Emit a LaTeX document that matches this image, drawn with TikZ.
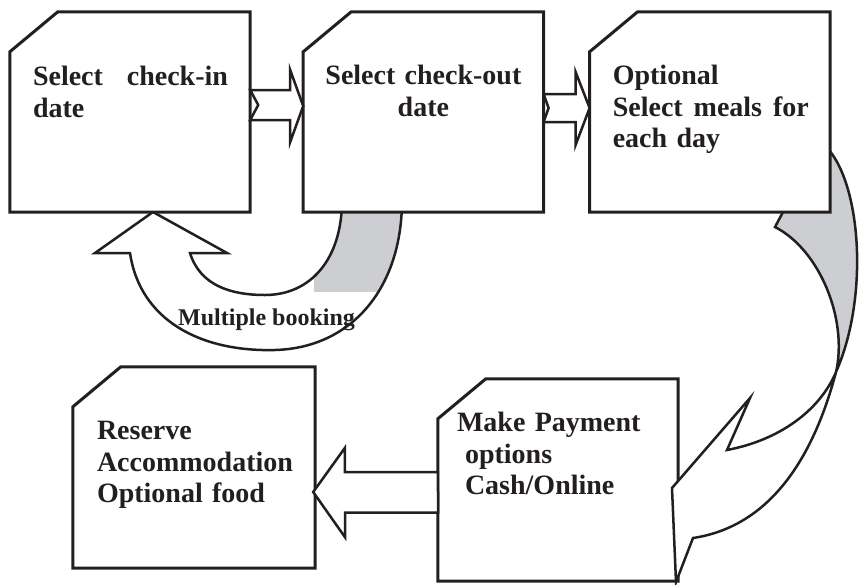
\documentclass[tikz,border=0pt]{standalone}
\usepackage{fontspec}
\setmainfont{Liberation Serif}
\usetikzlibrary{positioning,calc}
\definecolor{bandgray}{RGB}{205,206,209}
\definecolor{ink}{RGB}{35,31,32}

\begin{document}
\begin{tikzpicture}[x=1pt, y=-1pt, every node/.style={inner sep=0pt}]
    % styles
    \tikzstyle{card} = [rectangle, minimum width=240pt, minimum height=200pt]
    \tikzstyle{cardline} = [draw=ink, line width=3pt, fill=white]
    \tikzstyle{bandline} = [draw=ink, line width=2.5pt, fill=white]
    \tikzstyle{blockarrow} = [draw=ink, line width=2.5pt, fill=white]
    \tikzstyle{txt} = [text=ink, font=\fontsize{28}{31.5}\selectfont\bfseries, align=left]

    \useasboundingbox (0,0) rectangle (861,584);

    % boxes (outlines drawn below)
    \node[card] (b1) at (130,112) {};
    \node[card, right=53pt of b1] (b2) {};
    \node[card, right=46pt of b2] (b3) {};
    \node[card, minimum width=242pt, minimum height=201pt] (b5) at (194,467.5) {};
    \node[card, minimum height=202pt] (b4) at (558,480) {};

    \draw[cardline] ([yshift=-40pt]b4.north west) -- ([xshift=48pt]b4.north west) -- (b4.north east) -- (b4.south east) -- (b4.south west) -- cycle;

    % loop back: check-out -> check-in
    \draw[bandline, path picture={\fill[bandgray] (314,190) rectangle (420,292);}]
        (153,212) -- (95,253) -- (130,253) .. controls (140,320) and (200,352) .. (275,350)
        .. controls (350,348) and (402,290) .. (402,200) -- (342,200)
        .. controls (342,260) and (310,295) .. (265,295) .. controls (230,295) and (200,285) .. (190,253)
        -- (227,253) -- cycle;

    % meals -> payment
    \draw[bandline, path picture={\fill[bandgray] (700,130) rectangle (870,372);}]
        (800,180) -- (829,150) .. controls (862,190) and (868,300) .. (836,372)
        .. controls (818,440) and (780,525) .. (693,538) -- (676,582) -- (672,488) -- (750,398) -- (727,450)
        .. controls (780,440) and (820,410) .. (836,372) .. controls (848,320) and (820,250) .. (775,227)
        -- (783,212) -- (790,200) -- cycle;

    \foreach \b in {b1,b2,b3,b5}
        \draw[cardline] ([yshift=-40pt]\b.north west) -- ([xshift=48pt]\b.north west) -- (\b.north east) -- (\b.south east) -- (\b.south west) -- cycle;

    % straight arrows
    \draw[blockarrow] ($(b1.east)+(0,-22)$) -- ++(40,0) -- ++(0,-20) -- ($(b2.west)+(0,-6)$) -- ++(-13,36) -- ++(0,-22) -- ++(-40,0) -- ++(8,-15) -- cycle;
    \draw[blockarrow] ($(b2.east)+(0,-18)$) -- ++(32,0) -- ++(0,-22) -- ($(b3.west)+(0,-4)$) -- ++(-14,37) -- ++(0,-23) -- ++(-32,0) -- ++(5,-14) -- cycle;
    \draw[blockarrow] ($(b4.west)+(0,-8)$) -- ++(-93,0) -- ++(0,-24) -- ($(b5.east)+(-2,24.5)$) -- ++(32,45.5) -- ++(0,-25) -- ++(93,0) -- cycle;

    % texts
    \node[txt, text width=200pt, anchor=base west] (t1) at ($(b1.north west)+(23,74)$) {\makebox[195pt]{Select\hfill check-in}\\date};
    \node[txt, text width=240pt, align=center, anchor=base] (t2) at ($(b2.north)+(0,73)$) {Select check-out\\date};
    \node[txt, text width=200pt, anchor=base west] (t3) at ($(b3.north west)+(23,73)$) {Optional\\\makebox[196pt]{Select\hfill meals\hfill for}\\each day};
    \node[txt, text width=220pt, anchor=base west] (t5) at ($(b5.north west)+(24,73)$) {Reserve\\Accommodation\\Optional food};
    \node[txt, text width=215pt, anchor=base west] (t4) at ($(b4.north west)+(19,53)$) {Make Payment\\\hspace*{8pt}options\\\hspace*{8pt}Cash/Online};
    \node[txt, font=\fontsize{24}{28}\selectfont\bfseries, anchor=base west] (multi) at (178,325) {Multiple booking};
\end{tikzpicture}
\end{document}
